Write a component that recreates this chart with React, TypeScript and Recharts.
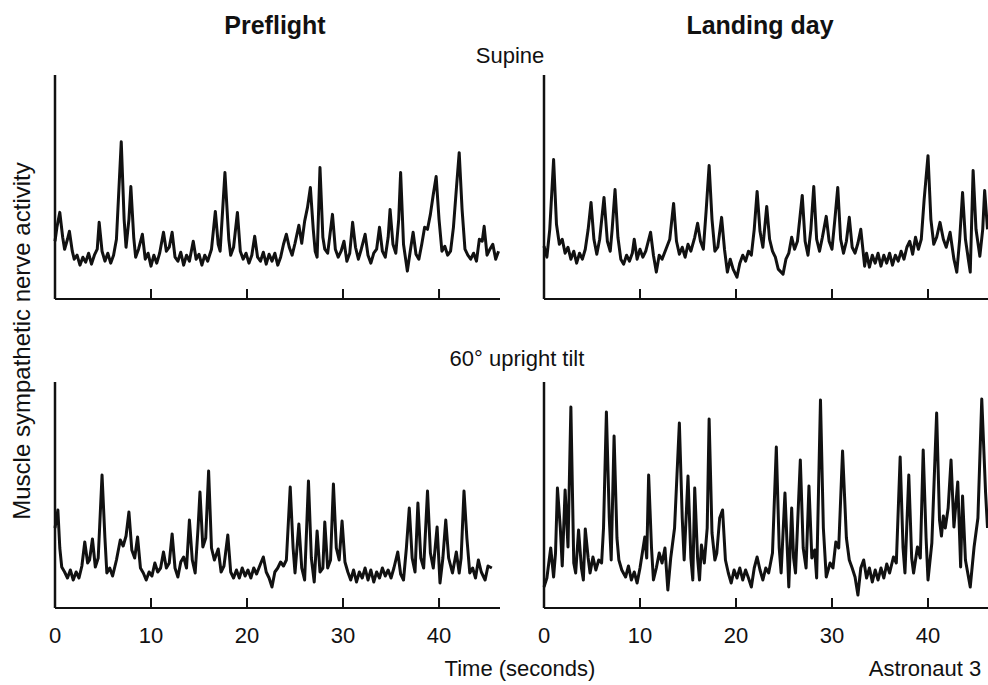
import { LineChart, Line, XAxis, YAxis, ReferenceLine } from "recharts";

// values; t in seconds, v in arbitrary units (axis top = 225)
const xTicks = [0, 10, 20, 30, 40];

const preSupine: [number, number][] = [
  [0, 58], [0.2, 72], [0.5, 87], [0.8, 62], [1.0, 50], [1.3, 60], [1.5, 68], [1.8, 48], [2.0, 40], [2.3, 44],
  [2.6, 34], [2.9, 42], [3.2, 37], [3.5, 46], [3.8, 35], [4.1, 44], [4.4, 50], [4.6, 77], [4.9, 48], [5.2, 38],
  [5.5, 46], [5.8, 36], [6.1, 44], [6.4, 60], [6.9, 158], [7.2, 80], [7.4, 52], [7.7, 80], [7.9, 113], [8.2, 62],
  [8.4, 42], [8.7, 50], [9.1, 65], [9.4, 40], [9.7, 46], [10.0, 33], [10.3, 44], [10.6, 36], [10.9, 46], [11.3, 67],
  [11.6, 48], [11.9, 52], [12.2, 67], [12.5, 42], [12.8, 38], [13.1, 47], [13.4, 34], [13.7, 44], [14.0, 38], [14.4, 58],
  [14.7, 40], [15.0, 45], [15.3, 34], [15.6, 44], [15.9, 38], [16.3, 50], [16.7, 88], [17.0, 55], [17.2, 48], [17.7, 127],
  [18.1, 60], [18.3, 44], [18.6, 52], [19.0, 87], [19.3, 48], [19.6, 40], [19.9, 46], [20.2, 36], [20.5, 44], [20.8, 63],
  [21.1, 42], [21.4, 38], [21.7, 47], [22.0, 35], [22.3, 45], [22.6, 38], [22.9, 46], [23.2, 34], [23.5, 42], [23.8, 55],
  [24.1, 65], [24.4, 52], [24.7, 44], [25.0, 56], [25.4, 74], [25.7, 56], [26.0, 78], [26.3, 92], [26.6, 112], [26.9, 70],
  [27.1, 48], [27.3, 42], [27.6, 132], [27.9, 62], [28.1, 50], [28.4, 46], [28.9, 85], [29.2, 50], [29.5, 42], [29.8, 48],
  [30.1, 58], [30.4, 38], [30.7, 46], [31.0, 77], [31.3, 52], [31.6, 40], [31.9, 50], [32.3, 65], [32.6, 44], [32.9, 36],
  [33.2, 46], [33.5, 50], [33.8, 72], [34.1, 48], [34.4, 42], [34.7, 62], [34.9, 90], [35.2, 55], [35.5, 46], [35.8, 80],
  [36.0, 127], [36.3, 55], [36.7, 28], [37.0, 48], [37.3, 67], [37.6, 45], [37.9, 40], [38.2, 55], [38.5, 72], [38.8, 70],
  [39.1, 85], [39.4, 105], [39.7, 123], [40.0, 80], [40.3, 48], [40.6, 53], [40.9, 44], [41.2, 48], [41.5, 72], [41.8, 110],
  [42.1, 147], [42.4, 90], [42.7, 50], [43.0, 44], [43.3, 40], [43.6, 46], [43.9, 38], [44.2, 60], [44.5, 58], [44.7, 73],
  [45.0, 44], [45.3, 50], [45.6, 55], [45.9, 40], [46.2, 48],
];

const landSupine: [number, number][] = [
  [0, 53], [0.3, 42], [0.6, 70], [1.0, 140], [1.3, 75], [1.6, 55], [1.9, 60], [2.2, 46], [2.5, 52], [2.8, 40],
  [3.1, 48], [3.4, 36], [3.7, 46], [4.0, 40], [4.3, 50], [4.6, 70], [4.9, 97], [5.2, 60], [5.5, 45], [5.8, 60],
  [6.25, 102], [6.6, 58], [6.9, 48], [7.1, 70], [7.4, 110], [7.7, 62], [8.0, 40], [8.3, 35], [8.6, 44], [8.9, 38],
  [9.2, 46], [9.4, 60], [9.7, 40], [10.0, 50], [10.3, 42], [10.6, 48], [11.1, 67], [11.4, 44], [11.7, 27], [12.0, 44],
  [12.3, 40], [12.7, 50], [13.1, 60], [13.5, 96], [13.8, 58], [14.1, 45], [14.4, 52], [14.7, 42], [15.0, 55], [15.3, 48],
  [15.7, 62], [16.0, 76], [16.3, 58], [16.6, 50], [16.9, 90], [17.2, 134], [17.5, 80], [17.8, 48], [18.1, 52], [18.5, 82],
  [18.8, 50], [19.1, 27], [19.4, 40], [19.7, 30], [20.1, 22], [20.4, 36], [20.7, 44], [21.0, 38], [21.3, 48], [21.6, 44],
  [21.9, 70], [22.2, 108], [22.5, 68], [22.8, 52], [23.2, 93], [23.5, 60], [23.8, 48], [24.1, 42], [24.4, 30], [24.9, 25],
  [25.2, 40], [25.5, 46], [25.8, 62], [26.1, 50], [26.4, 58], [26.9, 104], [27.2, 58], [27.5, 44], [27.8, 70], [28.1, 113],
  [28.4, 60], [28.7, 48], [29.0, 62], [29.4, 83], [29.7, 58], [30.0, 50], [30.3, 80], [30.6, 112], [30.9, 60], [31.2, 46],
  [31.5, 58], [31.8, 82], [32.1, 52], [32.4, 46], [32.7, 56], [33.0, 70], [33.4, 33], [33.6, 46], [33.9, 32], [34.2, 44],
  [34.5, 36], [34.8, 46], [35.1, 33], [35.4, 44], [35.7, 36], [36.0, 46], [36.3, 34], [36.6, 44], [36.9, 38], [37.2, 48],
  [37.5, 40], [37.8, 52], [38.1, 58], [38.4, 45], [38.7, 62], [39.0, 50], [39.3, 60], [39.6, 100], [40.0, 144], [40.3, 80],
  [40.6, 55], [40.9, 62], [41.25, 77], [41.6, 60], [41.9, 52], [42.3, 67], [42.7, 40], [43.0, 27], [43.3, 60], [43.6, 107],
  [43.9, 60], [44.2, 40], [44.4, 27], [44.7, 129], [45.0, 70], [45.4, 43], [45.7, 70], [45.9, 109], [46.2, 70],
];

const preTilt: [number, number][] = [
  [0, 80], [0.3, 98], [0.5, 60], [0.7, 41], [1.0, 36], [1.3, 30], [1.6, 38], [1.9, 28], [2.2, 36], [2.5, 30],
  [2.8, 42], [3.1, 66], [3.4, 45], [3.6, 48], [3.9, 69], [4.2, 41], [4.5, 50], [4.9, 133], [5.2, 70], [5.4, 35],
  [5.7, 40], [6.0, 32], [6.4, 48], [6.8, 68], [7.1, 62], [7.4, 72], [7.7, 96], [8.0, 58], [8.3, 50], [8.6, 71],
  [8.9, 40], [9.2, 35], [9.5, 28], [9.8, 36], [10.1, 32], [10.4, 45], [10.7, 36], [11.0, 40], [11.3, 56], [11.6, 40],
  [11.9, 45], [12.2, 74], [12.5, 40], [12.8, 31], [13.1, 46], [13.4, 51], [13.7, 40], [14.0, 88], [14.3, 48], [14.6, 35],
  [14.9, 80], [15.1, 116], [15.4, 61], [15.7, 70], [16.0, 137], [16.3, 60], [16.6, 48], [17.0, 59], [17.3, 36], [17.6, 42],
  [18.0, 73], [18.3, 36], [18.6, 30], [18.9, 38], [19.2, 30], [19.5, 40], [19.8, 32], [20.1, 38], [20.4, 30], [20.7, 40],
  [21.0, 34], [21.4, 44], [21.7, 51], [22.0, 36], [22.3, 30], [22.6, 21], [22.9, 36], [23.2, 40], [23.5, 46], [23.8, 42],
  [24.1, 48], [24.5, 121], [24.8, 60], [25.0, 35], [25.4, 84], [25.7, 40], [26.0, 28], [26.4, 127], [26.7, 50], [27.0, 26],
  [27.3, 77], [27.6, 36], [27.9, 40], [28.1, 86], [28.4, 40], [28.7, 48], [29.0, 124], [29.3, 60], [29.6, 48], [29.9, 87],
  [30.2, 46], [30.5, 36], [30.8, 28], [31.1, 38], [31.4, 26], [31.7, 36], [32.0, 30], [32.3, 40], [32.6, 28], [32.9, 38],
  [33.2, 26], [33.5, 36], [33.8, 30], [34.1, 40], [34.4, 32], [34.7, 38], [35.0, 30], [35.3, 40], [35.7, 56], [36.0, 34],
  [36.3, 28], [36.6, 60], [36.9, 100], [37.2, 50], [37.5, 36], [37.8, 105], [38.1, 50], [38.4, 40], [38.8, 117], [39.1, 55],
  [39.4, 40], [39.8, 81], [40.1, 25], [40.4, 50], [40.7, 88], [41.0, 50], [41.4, 35], [41.8, 56], [42.1, 35], [42.3, 50],
  [42.6, 117], [42.9, 70], [43.2, 35], [43.5, 40], [43.8, 30], [44.1, 48], [44.4, 36], [44.8, 28], [45.1, 42], [45.5, 40],
];

const landTilt: [number, number][] = [
  [0, 21], [0.3, 30], [0.7, 60], [1.0, 31], [1.2, 55], [1.4, 120], [1.7, 80], [1.9, 42], [2.2, 118], [2.5, 61],
  [2.8, 201], [3.1, 45], [3.3, 35], [3.6, 78], [3.9, 40], [4.1, 28], [4.3, 79], [4.6, 50], [4.8, 35], [5.1, 51],
  [5.4, 38], [5.7, 48], [6.0, 45], [6.2, 80], [6.5, 196], [6.8, 90], [7.0, 48], [7.3, 172], [7.6, 70], [7.8, 48],
  [8.1, 38], [8.5, 31], [8.8, 42], [9.1, 28], [9.4, 36], [9.7, 25], [10.0, 40], [10.5, 71], [10.7, 50], [10.9, 133],
  [11.2, 60], [11.4, 28], [11.7, 40], [12.0, 55], [12.3, 45], [12.6, 60], [12.9, 18], [13.2, 50], [13.6, 80], [14.1, 185],
  [14.4, 90], [14.6, 48], [15.0, 132], [15.3, 50], [15.5, 28], [15.7, 120], [16.0, 50], [16.2, 28], [16.4, 63], [16.7, 45],
  [17.0, 80], [17.2, 189], [17.5, 75], [17.8, 48], [18.0, 55], [18.3, 90], [18.6, 98], [18.9, 48], [19.2, 35], [19.5, 25],
  [19.8, 38], [20.1, 30], [20.4, 40], [20.7, 28], [21.0, 38], [21.3, 30], [21.6, 21], [21.9, 40], [22.2, 51], [22.5, 38],
  [22.8, 28], [23.1, 40], [23.4, 35], [23.8, 55], [24.2, 161], [24.5, 60], [24.7, 35], [25.1, 115], [25.4, 45], [25.5, 21],
  [25.8, 100], [26.0, 50], [26.2, 35], [26.7, 148], [27.0, 60], [27.3, 40], [27.6, 122], [27.9, 50], [28.2, 58], [28.4, 30],
  [28.8, 208], [29.1, 80], [29.4, 31], [29.8, 45], [30.1, 40], [30.4, 66], [30.7, 60], [31.1, 157], [31.5, 70], [31.8, 48],
  [32.1, 40], [32.4, 31], [32.7, 13], [33.0, 40], [33.3, 48], [33.6, 30], [33.9, 40], [34.2, 26], [34.5, 38], [34.8, 28],
  [35.1, 40], [35.4, 30], [35.7, 44], [36.0, 35], [36.4, 51], [36.7, 45], [37.1, 151], [37.4, 60], [37.6, 35], [38.0, 133],
  [38.3, 50], [38.5, 35], [38.9, 61], [39.2, 50], [39.5, 158], [39.8, 70], [40.0, 28], [40.4, 65], [40.9, 195], [41.2, 88],
  [41.4, 72], [41.6, 92], [41.8, 80], [42.1, 100], [42.4, 148], [42.7, 81], [43.1, 126], [43.4, 41], [43.6, 112], [43.9, 48],
  [44.4, 21], [44.8, 61], [45.2, 90], [45.6, 209], [46.0, 115], [46.2, 80],
];

const FONT = "'Liberation Sans', Arial, Helvetica, sans-serif";
const INK = "#111";

function makeTick(showLabel: boolean) {
  return (props: any) => {
    const { x, y, payload } = props;
    return (
      <g>
        {payload.value !== 0 && (
          <line x1={x} y1={y} x2={x} y2={y - 10} stroke={INK} strokeWidth={2} />
        )}
        {showLabel && (
          <text x={x} y={y + 35} textAnchor="middle" fontSize={22} fontFamily={FONT} fill={INK}>
            {payload.value}
          </text>
        )}
      </g>
    );
  };
}

type PanelProps = {
  points: [number, number][];
  left: number;
  top: number;
  plotW: number;
  plotH: number;
  xMax: number;
  yMax: number;
  labels: boolean;
};

function Panel({ points, left, top, plotW, plotH, xMax, yMax, labels }: PanelProps) {
  const rows = points.map(([t, v]) => ({ t, v }));
  return (
    <div style={{ position: "absolute", left: left - 10, top: top - 5 }}>
      <LineChart
        width={plotW + 20}
        height={plotH + 50}
        data={rows}
        margin={{ top: 5, right: 10, bottom: 0, left: 10 }}
      >
        <XAxis
          dataKey="t"
          type="number"
          domain={[0, xMax]}
          ticks={xTicks}
          interval={0}
          height={45}
          tickSize={0}
          tickMargin={0}
          tickLine={false}
          axisLine={{ stroke: INK, strokeWidth: 2 }}
          tick={makeTick(labels)}
        />
        <YAxis hide type="number" domain={[0, yMax]} />
        <ReferenceLine x={0} stroke={INK} strokeWidth={2.5} />
        <Line
          dataKey="v"
          type="linear"
          stroke={INK}
          strokeWidth={3}
          strokeLinejoin="round"
          dot={false}
          isAnimationActive={false}
        />
      </LineChart>
    </div>
  );
}

export default function App() {
  return (
    <div
      style={{
        position: "absolute",
        left: 0,
        top: 0,
        width: 988,
        height: 685,
        overflow: "hidden",
        background: "#fff",
        fontFamily: FONT,
      }}
    >
      <Panel points={preSupine} left={55} top={75} plotW={445} plotH={224} xMax={46.35} yMax={225} labels={false} />
      <Panel points={landSupine} left={544} top={75} plotW={444} plotH={224} xMax={46.25} yMax={225} labels={false} />
      <Panel points={preTilt} left={55} top={382} plotW={445} plotH={226} xMax={46.35} yMax={226} labels />
      <Panel points={landTilt} left={544} top={382} plotW={444} plotH={226} xMax={46.25} yMax={226} labels />

      <svg
        width={988}
        height={685}
        style={{ position: "absolute", left: 0, top: 0, pointerEvents: "none" }}
        fontFamily={FONT}
        fill={INK}
      >
        <text x={275} y={34} textAnchor="middle" fontSize={25} fontWeight="bold">Preflight</text>
        <text x={760} y={34} textAnchor="middle" fontSize={25} fontWeight="bold">Landing day</text>
        <text x={510} y={63} textAnchor="middle" fontSize={22}>Supine</text>
        <text x={517} y={366} textAnchor="middle" fontSize={22}>60° upright tilt</text>
        <text x={520} y={676} textAnchor="middle" fontSize={22}>Time (seconds)</text>
        <text x={925} y={676} textAnchor="middle" fontSize={22}>Astronaut 3</text>
        <text
          x={0}
          y={0}
          textAnchor="middle"
          fontSize={24}
          transform="translate(30, 341) rotate(-90)"
        >
          Muscle sympathetic nerve activity
        </text>
      </svg>
    </div>
  );
}
